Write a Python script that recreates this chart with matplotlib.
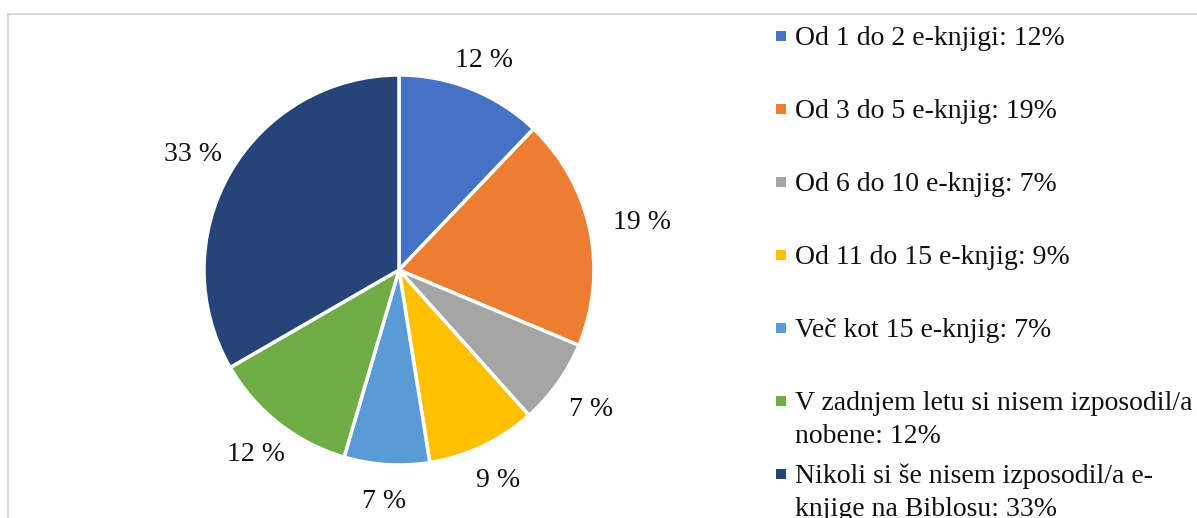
import matplotlib.pyplot as plt
import numpy as np
from matplotlib.patches import Rectangle

categories = [
    "Od 1 do 2 e-knjigi",
    "Od 3 do 5 e-knjig",
    "Od 6 do 10 e-knjig",
    "Od 11 do 15 e-knjig",
    "Več kot 15 e-knjig",
    "V zadnjem letu si nisem izposodil/a\nnobene",
    "Nikoli si še nisem izposodil/a e-\nknjige na Biblosu",
]
shares = [12, 19, 7, 9, 7, 12, 33]
colors = ["#4472C4", "#ED7D31", "#A5A5A5", "#FFC000",
          "#5B9BD5", "#70AD47", "#264478"]


def main():
    plt.rcParams["font.family"] = ["Liberation Serif", "DejaVu Serif"]
    W, H = 1197, 518
    fig = plt.figure(figsize=(W / 100, H / 100), dpi=100)

    # overlay in pixel coords for border and legend
    ov = fig.add_axes([0, 0, 1, 1])
    ov.set_xlim(0, W)
    ov.set_ylim(H, 0)
    ov.axis("off")
    ov.plot([7.5, 7.5, W + 5], [H + 5, 13.5, 13.5], color="#D9D9D9",
            lw=1.5, solid_joinstyle="miter")

    # pie
    cx, cy, r = 399, 270, 195
    ax = fig.add_axes([(cx - r) / W, (H - cy - r) / H, 2 * r / W, 2 * r / H])
    wedges, _ = ax.pie(
        shares, colors=colors, startangle=90, counterclock=False,
        wedgeprops=dict(edgecolor="white", linewidth=2.5),
    )
    ax.set_xlim(-1, 1)
    ax.set_ylim(-1, 1)

    # data labels placed just outside each wedge, box-aware distance
    renderer = fig.canvas.get_renderer()
    gap = 24
    for w, v in zip(wedges, shares):
        theta = np.deg2rad((w.theta1 + w.theta2) / 2)
        t = ax.text(0, 0, f"{v} %", fontsize=20, color="#111111",
                    ha="center", va="center")
        bb = t.get_window_extent(renderer)
        hw, hh = bb.width / 2, bb.height / 2 - 3
        c, s = abs(np.cos(theta)), abs(np.sin(theta))
        ext = min(hw / c if c > 1e-6 else 1e9, hh / s if s > 1e-6 else 1e9)
        d = (r + gap + ext) / r
        t.set_position((d * np.cos(theta), d * np.sin(theta) - 3 / r))

    # legend
    x0, y0, pitch = 776, 45, 73
    for i, (name, v, c) in enumerate(zip(categories, shares, colors)):
        yb = y0 + i * pitch
        ov.add_patch(Rectangle((x0, yb - 14), 10, 10, color=c, lw=0))
        lines = f"{name}: {v}%".split("\n")
        for j, line in enumerate(lines):
            ov.text(x0 + 19, yb + j * 33, line, fontsize=20, color="#111111",
                    va="baseline", ha="left")

    fig.savefig("out.png", dpi=100)


if __name__ == "__main__":
    main()
